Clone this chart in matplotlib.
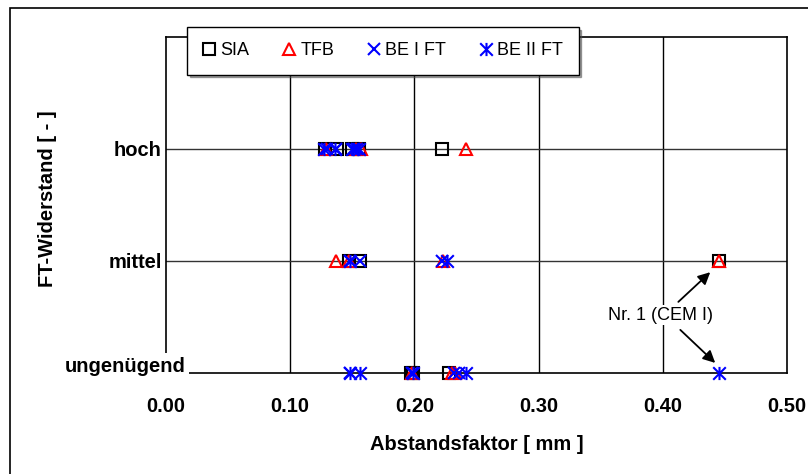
import matplotlib
matplotlib.use("Agg")
import matplotlib.pyplot as plt
from matplotlib.path import Path
from matplotlib.patches import Rectangle
from matplotlib.transforms import ScaledTranslation

plt.rcParams['font.family'] = ['Liberation Sans', 'DejaVu Sans']

# ---- data ----
categories = ['ungenügend', 'mittel', 'hoch']
x_ticks = [0.0, 0.1, 0.2, 0.3, 0.4, 0.5]
x_tick_labels = ['0.00', '0.10', '0.20', '0.30', '0.40', '0.50']

sia_level = ['hoch'] * 5 + ['mittel'] * 3 + ['ungenügend'] * 3
sia_value = [0.128, 0.138, 0.150, 0.155, 0.222, 0.147, 0.156, 0.445, 0.197, 0.199, 0.228]

tfb_level = ['hoch'] * 4 + ['mittel'] * 4 + ['ungenügend'] * 3
tfb_value = [0.129, 0.153, 0.157, 0.2415, 0.137, 0.147, 0.223, 0.445, 0.198, 0.230, 0.233]

be1_level = ['hoch'] * 4 + ['mittel'] * 3 + ['ungenügend'] * 4
be1_value = [0.130, 0.137, 0.151, 0.154, 0.148, 0.156, 0.222, 0.148, 0.198, 0.232, 0.236]

be2_level = ['hoch'] * 4 + ['mittel'] * 2 + ['ungenügend'] * 5
be2_value = [0.127, 0.136, 0.150, 0.155, 0.148, 0.226, 0.148, 0.156, 0.199, 0.2415, 0.445]

annotation_text = 'Nr. 1 (CEM I)'

# ---- figure ----
W, H = 808, 474
fig = plt.figure(figsize=(W / 100, H / 100), dpi=100)
ax = fig.add_axes([166 / W, 1 - 373 / H, (787 - 166) / W, (373 - 37) / H])

def idx(levels):
    return [categories.index(l) for l in levels]

asterisk = Path([(-1, -1), (1, 1), (-1, 1), (1, -1), (0, -1.05), (0, 1.05)],
                [Path.MOVETO, Path.LINETO, Path.MOVETO, Path.LINETO, Path.MOVETO, Path.LINETO])

ms = 8.5
ax.plot(sia_value, idx(sia_level), ls='none', marker='s', ms=ms, mfc='none',
        mec='black', mew=1.5, label='SIA', zorder=3, clip_on=False)
ax.plot(tfb_value, idx(tfb_level), ls='none', marker='^', ms=ms + 0.5, mfc='none',
        mec='red', mew=1.5, label='TFB', zorder=4, clip_on=False)
ax.plot(be1_value, idx(be1_level), ls='none', marker='x', ms=ms, mfc='none',
        mec='blue', mew=1.5, label='BE I FT', zorder=5, clip_on=False)
ax.plot(be2_value, idx(be2_level), ls='none', marker=asterisk, ms=ms + 1, mfc='none',
        mec='blue', mew=1.5, label='BE II FT', zorder=6, clip_on=False)

ax.set_xlim(0, 0.5)
ax.set_ylim(0, 3)
ax.set_xticks(x_ticks)
ax.set_xticklabels(x_tick_labels, fontsize=14.5, fontweight='bold')
ax.set_yticks(range(len(categories)))
ax.set_yticklabels(categories, fontsize=14.5, fontweight='bold')
ax.tick_params(axis='x', length=0, pad=17)
ax.tick_params(axis='y', length=0, pad=3)

for v in x_ticks[1:-1]:
    ax.axvline(v, color='black', lw=1.0, zorder=1)
for c in range(1, len(categories)):
    ax.axhline(c, color='#333333', lw=1.0, zorder=1)

for s in ax.spines.values():
    s.set_linewidth(1.2)
    s.set_color('black')

# 'ungenügend' label: raised, shifted right, white background covering the frame corner
yl = ax.get_yticklabels()
yl[0].set_visible(False)
t = ax.text(0.032, 0, categories[0], ha='right', va='center', fontsize=14.5,
            fontweight='bold', zorder=20, clip_on=False,
            bbox=dict(facecolor='white', edgecolor='none', pad=2.5))
t.set_transform(ax.get_yaxis_transform() + ScaledTranslation(0, 5 / 72, fig.dpi_scale_trans))

ax.set_xlabel('Abstandsfaktor [ mm ]', fontsize=14.5, fontweight='bold', labelpad=14)
ax.set_ylabel('FT-Widerstand [ - ]', fontsize=14.5, fontweight='bold')
ax.yaxis.set_label_coords(-0.176, 0.52)

# annotation
ax.text(0.398, 0.515, annotation_text, ha='center', va='center', fontsize=13, zorder=7,
        bbox=dict(facecolor='white', edgecolor='none', pad=1))
arrow = dict(arrowstyle='-|>', color='black', lw=1.3, mutation_scale=18, shrinkA=0, shrinkB=0)
ax.annotate('', xy=(0.4382, 0.90), xytext=(0.4125, 0.635), arrowprops=arrow, zorder=8)
ax.annotate('', xy=(0.4422, 0.09), xytext=(0.4141, 0.385), arrowprops=arrow, zorder=8)

leg = ax.legend(loc='upper left', bbox_to_anchor=(187 / W, 1 - 27 / H),
                bbox_transform=fig.transFigure, ncol=4, fontsize=13, frameon=True,
                fancybox=False, shadow=True, edgecolor='black', framealpha=1,
                handlelength=0.7, handletextpad=0.3, columnspacing=1.83,
                borderpad=0.85, borderaxespad=0, markerscale=1.0)
leg.get_frame().set_linewidth(1.0)
leg.set_zorder(30)

# outer border of the chart area
fig.add_artist(Rectangle((10 / W, -0.5), 2.0, 0.5 + 1 - 8 / H, transform=fig.transFigure,
                         fill=False, edgecolor='black', lw=1.2))

fig.savefig('out.png', dpi=100)
